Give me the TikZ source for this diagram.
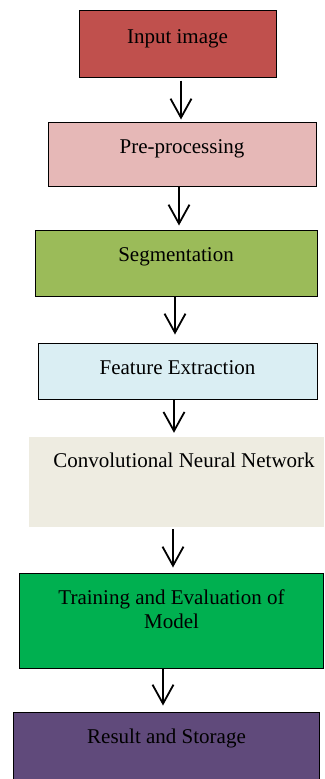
\documentclass[tikz,border=0pt]{standalone}
\usepackage{fontspec}
\setmainfont{Liberation Serif}
\usetikzlibrary{arrows.meta}
\definecolor{cInput}{HTML}{C0504D}
\definecolor{cPre}{HTML}{E6B8B7}
\definecolor{cSeg}{HTML}{9BBB59}
\definecolor{cFeat}{HTML}{DAEEF3}
\definecolor{cCnn}{HTML}{EEECE1}
\definecolor{cTrain}{HTML}{00B050}
\definecolor{cRes}{HTML}{604A7B}
\tikzset{
  box/.style={rectangle, draw=black, line width=1pt, inner sep=0pt},
  plainbox/.style={rectangle, draw=none, inner sep=0pt},
  txt/.style={inner sep=0pt, anchor=base, align=center, font=\fontsize{21}{24}\selectfont},
  arr/.style={line width=1.8pt, -{Straight Barb[length=19pt,width=21pt,line width=1.8pt]}}
}
\begin{document}
\begin{tikzpicture}[x=1pt,y=-1pt]
\useasboundingbox (0,0) rectangle (324,779);
% boxes
\node[box, fill=cInput, minimum width=197pt, minimum height=67pt] (n1) at (177.5,43.5) {};
\node[box, fill=cPre, minimum width=268pt, minimum height=64pt] (n2) at (182,154) {};
\node[box, fill=cSeg, minimum width=282pt, minimum height=66pt] (n3) at (176,263) {};
\node[box, fill=cFeat, minimum width=279pt, minimum height=56pt] (n4) at (177.5,371) {};
\node[plainbox, fill=cCnn, minimum width=295pt, minimum height=90pt] (n5) at (176.5,482) {};
\node[box, fill=cTrain, minimum width=304pt, minimum height=95pt] (n6) at (171,620.5) {};
\node[box, fill=cRes, minimum width=306pt, minimum height=90pt] (n7) at (166,757) {};
% texts
\node[txt] (t1) at (177.5,43) {Input image};
\node[txt] (t2) at (182,153) {Pre-processing};
\node[txt] (t3) at (176,261) {Segmentation};
\node[txt] (t4) at (177.5,374) {Feature Extraction};
\node[txt] (t5) at (184,467) {Convolutional Neural Network};
\node[txt] (t6) at (171.5,628) {Training and Evaluation of\\Model};
\node[txt] (t7) at (166.5,743) {Result and Storage};
% arrows
\draw[arr] ([xshift=3.5pt,yshift=-3pt]n1.south) -- ([xshift=-1pt,yshift=2pt]n2.north);
\draw[arr] ([xshift=-3pt]n2.south) -- ([xshift=3pt,yshift=4pt]n3.north);
\draw[arr] ([xshift=-1pt]n3.south) -- ([xshift=-2.5pt,yshift=8pt]n4.north);
\draw[arr] ([xshift=-3.5pt]n4.south) -- ([xshift=-2.5pt,yshift=4pt]n5.north);
\draw[arr] ([xshift=-3.5pt,yshift=-2pt]n5.south) -- ([xshift=2pt,yshift=5pt]n6.north);
\draw[arr] ([xshift=-8pt]n6.south) -- ([xshift=-3pt,yshift=6pt]n7.north);
\end{tikzpicture}
\end{document}
